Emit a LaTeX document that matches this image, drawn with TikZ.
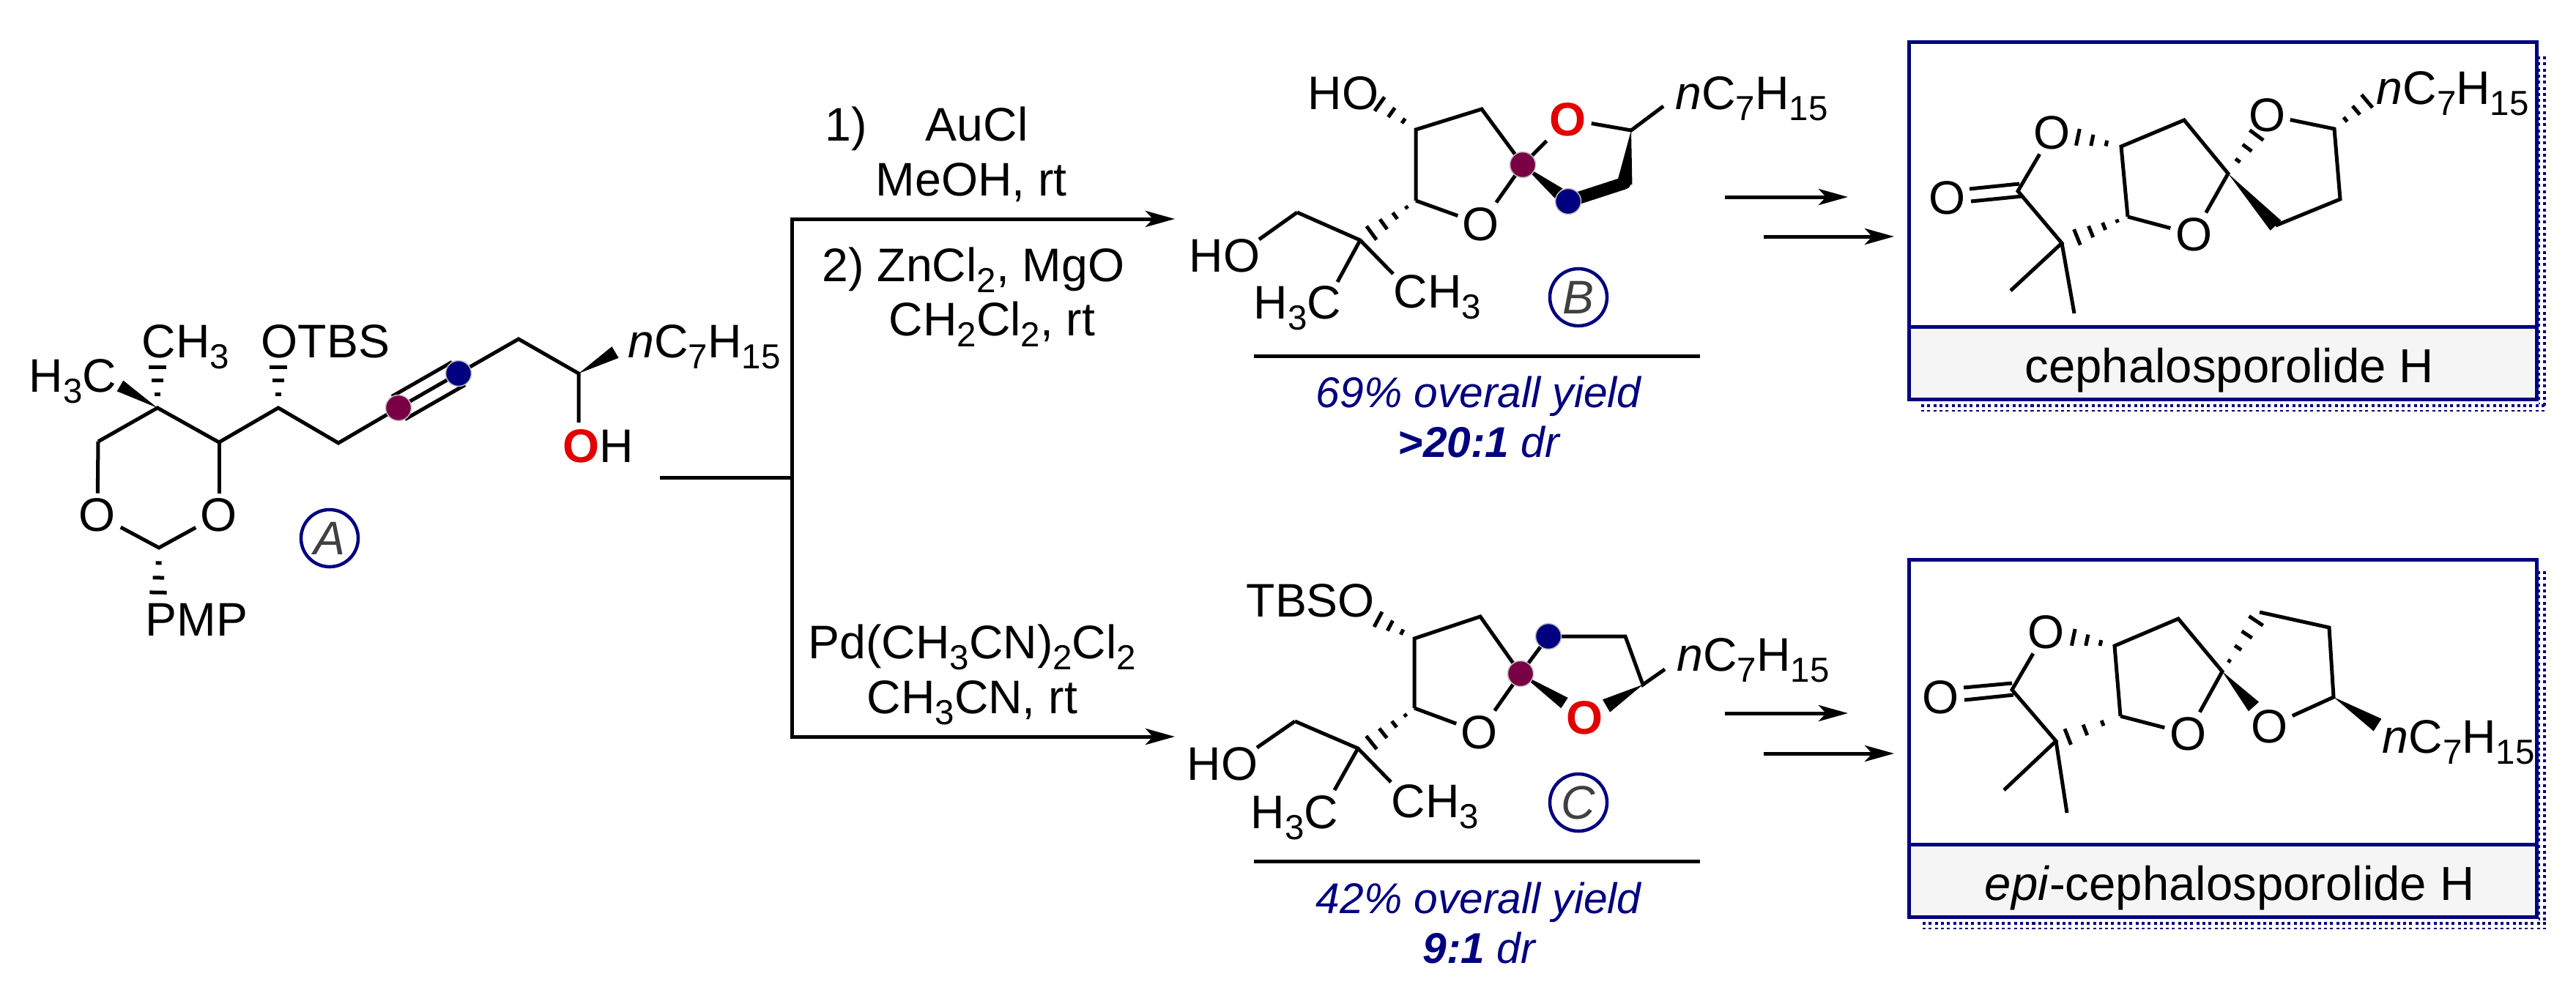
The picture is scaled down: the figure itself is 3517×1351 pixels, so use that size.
\documentclass[tikz,border=0pt]{standalone}
\usepackage{fontspec}
\setmainfont{Liberation Sans}
\usetikzlibrary{arrows.meta, positioning, calc}
\definecolor{Navy}{RGB}{0, 0, 128}
\definecolor{Plum}{RGB}{122, 0, 70}
\definecolor{AtomRed}{RGB}{226, 0, 0}
\definecolor{LabelGray}{RGB}{245, 245, 245}
\tikzset{
  bond/.style={line width=.05cm, line join=miter},
  boldbond/.style={line width=.17cm, line cap=round},
  hashline/.style={line width=.05cm},
  rxn/.style={line width=.05cm, -{Stealth[length=.4cm, width=.22cm, inset=.1cm]}},
  txt/.style={anchor=base west, inner sep=0pt, font=\fontsize{18.3pt}{20pt}\selectfont},
  atom/.style={inner sep=.06cm, font=\fontsize{18.3pt}{20pt}\selectfont},
  redatom/.style={atom, text=AtomRed, font=\fontsize{18.3pt}{20pt}\selectfont\bfseries},
  yieldtxt/.style={anchor=base west, inner sep=0pt, text=Navy, font=\fontsize{16.7pt}{19pt}\selectfont\itshape},
  dotpurple/.style={circle, inner sep=0pt, minimum size=.35cm, fill=Plum, draw=gray!50, line width=.015cm},
  dotblue/.style={circle, inner sep=0pt, minimum size=.35cm, fill=Navy, draw=gray!50, line width=.015cm},
  cmpd/.style={circle, inner sep=0pt, minimum size=.78cm, draw=Navy, line width=.045cm, text=black!75,
    font=\fontsize{18.3pt}{20pt}\selectfont\itshape},
  boxline/.style={draw=Navy, line width=.05cm},
  shadowline/.style={draw=Navy, line width=.04cm, dash pattern=on .04cm off .043cm},
  shadowthin/.style={draw=Navy, line width=.025cm, dash pattern=on .04cm off .043cm}
}
\newcommand{\subs}[1]{\raisebox{-.15cm}{\fontsize{13.5pt}{14pt}\selectfont #1}}
\newcommand{\nhept}{\textit{n}C\subs{7}H\subs{15}}
\newcommand{\wedgebond}[3]{\fill (#1) -- ($(#2)!#3!90:(#1)$) -- ($(#2)!#3!-90:(#1)$) -- cycle;}
\newcommand{\hashbond}[4][.33,.65,.97]{%
  \foreach \hpos in {#1} {
    \coordinate (hb) at ($(#2)!\hpos!(#3)$);
    \draw[hashline] ($(hb)!\hpos*#4!90:(#3)$) -- ($(hb)!\hpos*#4!-90:(#3)$);
  }}

\begin{document}
\begin{tikzpicture}[x=.01cm, y=-.01cm]
            \useasboundingbox (0,0) rectangle (3517,1351);

            % compound A
            \coordinate (aq) at (215,557);
            \coordinate (ac1) at (134,603);
            \coordinate (ac2) at (299,604);
            \coordinate (ac3) at (380,557);
            \coordinate (ac4) at (462,605);
            \coordinate (ayn1) at (544,557);
            \coordinate (ayn2) at (626,510);
            \coordinate (ac5) at (708,463);
            \coordinate (ac6) at (790,510);
            \coordinate (aacet) at (217,748);
            \coordinate (aohend) at (790,577);
            \coordinate (ame) at (164,527);
            \coordinate (ahept) at (840,481);
            \coordinate (amehash) at (215,500);
            \coordinate (aotbs) at (380,500);
            \coordinate (apmp) at (216,811);
            \node (aO1) at (133,703) [atom] {O};
            \node (aO2) at (299,703) [atom] {O};
            \node (aH3C) at (39,535) [txt] {H\subs{3}C};
            \node (aCH3) at (193,488) [txt] {CH\subs{3}};
            \node (aOTBS) at (356,488) [txt] {OTBS};
            \node (aPMP) at (198,868) [txt] {PMP};
            \node (anC7) at (857,488) [txt] {\nhept};
            \node (aOH) at (768,631) [txt] {\textcolor{AtomRed}{\bfseries O}H};
            \draw[bond] (ac1) -- (aq) -- (ac2) -- (ac3) -- (ac4) -- (ayn1);
            \draw[bond] (ayn1) -- (ayn2) -- (ac5) -- (ac6) -- (aohend);
            \draw[bond] ($(ayn1)!.18cm!90:(ayn2)$) -- ($(ayn2)!.18cm!-90:(ayn1)$);
            \draw[bond] ($(ayn1)!.18cm!-90:(ayn2)$) -- ($(ayn2)!.18cm!90:(ayn1)$);
            \draw[bond] (ac1) -- (aO1);
            \draw[bond] (ac2) -- (aO2);
            \draw[bond] (aO1) -- (aacet) -- (aO2);
            \wedgebond{aq}{ame}{.085cm}
            \wedgebond{ac6}{ahept}{.09cm}
            \hashbond{aq}{amehash}{.12cm}
            \hashbond{ac3}{aotbs}{.12cm}
            \hashbond{aacet}{apmp}{.12cm}
            \node (aDot1) at (ayn1) [dotpurple] {};
            \node (aDot2) at (ayn2) [dotblue] {};
            \node (labA) at (450,735) [cmpd] {A};

            % branching arrows
            \coordinate (brS) at (901,652);
            \coordinate (brM) at (1081,652);
            \coordinate (brT) at (1081,299);
            \coordinate (brB) at (1081,1006);
            \coordinate (tipT) at (1604,299);
            \coordinate (tipB) at (1604,1006);
            \draw[bond] (brS) -- (brM);
            \draw[bond] (brT) -- (brB);
            \draw[rxn] ([xshift=-.025cm]brT) -- (tipT);
            \draw[rxn] ([xshift=-.025cm]brB) -- (tipB);
            \node (rgtA) at (1126,192) [txt] {1)\hspace{.8cm}AuCl};
            \node (rgtB) at (1195,267) [txt] {MeOH, rt};
            \node (rgtC) at (1122,384) [txt] {2) ZnCl\subs{2}, MgO};
            \node (rgtD) at (1213,458) [txt] {CH\subs{2}Cl\subs{2}, rt};
            \node (rgtE) at (1103,899) [txt] {Pd(CH\subs{3}CN)\subs{2}Cl\subs{2}};
            \node (rgtF) at (1183,974) [txt] {CH\subs{3}CN, rt};

            % compound B
            \coordinate (bc1) at (1933,177);
            \coordinate (bc2) at (2023,149);
            \coordinate (bsp) at (2079,225);
            \coordinate (bc3) at (1933,274);
            \coordinate (bq) at (1857,328);
            \coordinate (bc4) at (1771,290);
            \coordinate (bc5) at (2227,178);
            \coordinate (bc6) at (2218,250);
            \coordinate (bc7) at (2141,275);
            \coordinate (bwa) at (2128,264);
            \coordinate (bwb) at (2218,251);
            \coordinate (bho1) at (1882,141);
            \coordinate (bhq) at (1870,320);
            \coordinate (bho2) at (1719,327);
            \coordinate (bme1) at (1826,385);
            \coordinate (bme2) at (1902,374);
            \coordinate (bhept) at (2271,145);
            \node (bO1) at (2022,306) [atom] {O};
            \node (bO2) at (2141,163) [redatom] {O};
            \node (bHO1) at (1785,149) [txt] {HO};
            \node (bHO2) at (1623,371) [txt] {HO};
            \node (bH3C) at (1711,435) [txt] {H\subs{3}C};
            \node (bCH3) at (1902,420) [txt] {CH\subs{3}};
            \node (bnC7) at (2287,149) [txt] {\nhept};
            \draw[bond] (bc3) -- (bc1) -- (bc2) -- (bsp) -- (bO1);
            \draw[bond] (bc3) -- (bO1);
            \draw[bond] (bc4) -- (bq) -- (bme2);
            \draw[bond] (bho2) -- (bc4);
            \draw[bond] (bq) -- (bme1);
            \draw[bond] (bsp) -- (bO2) -- (bc5) -- (bhept);
            \wedgebond{bsp}{bwa}{.085cm}
            \wedgebond{bc5}{bwb}{.105cm}
            \draw[boldbond] (bc7) -- (bc6);
            \hashbond{bc1}{bho1}{.12cm}
            \hashbond[.2,.45,.7,.96]{bc3}{bhq}{.12cm}
            \node (bDot1) at (bsp) [dotpurple] {};
            \node (bDot2) at (bc7) [dotblue] {};
            \node (labB) at (2155,406) [cmpd] {B};
            \coordinate (bruleL) at (1712,486);
            \coordinate (bruleR) at (2321,486);
            \draw[bond] (bruleL) -- (bruleR);
            \node (bYield) at (1796,556) [yieldtxt] {69\% overall yield};
            \node (bDr) at (1908,624) [yieldtxt] {\textbf{>20:1} dr};

            % compound C
            \coordinate (cc1) at (1931,872);
            \coordinate (cc2) at (2021,842);
            \coordinate (csp) at (2076,920);
            \coordinate (cc3) at (1931,967);
            \coordinate (cq) at (1854,1022);
            \coordinate (cc4) at (1768,985);
            \coordinate (cc5) at (2114,869);
            \coordinate (cc6) at (2219,869);
            \coordinate (cc7) at (2243,935);
            \coordinate (cwa) at (2136,960);
            \coordinate (cwb) at (2193,964);
            \coordinate (cho1) at (1880,845);
            \coordinate (chq) at (1870,1016);
            \coordinate (cho2) at (1716,1021);
            \coordinate (cme1) at (1822,1079);
            \coordinate (cme2) at (1899,1068);
            \coordinate (chept) at (2273,914);
            \node (cO1) at (2020,1000) [atom] {O};
            \node (cO2) at (2164,980) [redatom] {O};
            \node (cTBSO) at (1701,842) [txt] {TBSO};
            \node (cHO) at (1620,1065) [txt] {HO};
            \node (cH3C) at (1707,1131) [txt] {H\subs{3}C};
            \node (cCH3) at (1899,1116) [txt] {CH\subs{3}};
            \node (cnC7) at (2289,916) [txt] {\nhept};
            \draw[bond] (cc3) -- (cc1) -- (cc2) -- (csp) -- (cO1);
            \draw[bond] (cc3) -- (cO1);
            \draw[bond] (cc4) -- (cq) -- (cme2);
            \draw[bond] (cho2) -- (cc4);
            \draw[bond] (cq) -- (cme1);
            \draw[bond] (csp) -- (cc5) -- (cc6) -- (cc7) -- (chept);
            \wedgebond{csp}{cwa}{.085cm}
            \wedgebond{cc7}{cwb}{.1cm}
            \hashbond{cc1}{cho1}{.12cm}
            \hashbond[.2,.45,.7,.96]{cc3}{chq}{.12cm}
            \node (cDot1) at (csp) [dotpurple] {};
            \node (cDot2) at (cc5) [dotblue] {};
            \node (labC) at (2155,1096) [cmpd] {C};
            \coordinate (cruleL) at (1712,1176);
            \coordinate (cruleR) at (2321,1176);
            \draw[bond] (cruleL) -- (cruleR);
            \node (cYield) at (1796,1247) [yieldtxt] {42\% overall yield};
            \node (cDr) at (1942,1315) [yieldtxt] {\textbf{9:1} dr};

            % short arrows
            \coordinate (arA1) at (2355,269);
            \coordinate (arA2) at (2523,269);
            \coordinate (arB1) at (2408,323);
            \coordinate (arB2) at (2586,323);
            \coordinate (arC1) at (2355,974);
            \coordinate (arC2) at (2523,974);
            \coordinate (arD1) at (2408,1029);
            \coordinate (arD2) at (2586,1029);
            \draw[rxn] (arA1) -- (arA2);
            \draw[rxn] (arB1) -- (arB2);
            \draw[rxn] (arC1) -- (arC2);
            \draw[rxn] (arD1) -- (arD2);

            % boxes
            \draw[shadowline] (3474,77) -- (3474,556);
            \draw[shadowthin] (3467,77) -- (3467,552);
            \draw[shadowline] (2623,554) -- (3476,554);
            \draw[shadowthin] (2623,561) -- (3476,561);
            \fill[LabelGray] (2606,446) rectangle (3463,545);
            \draw[boxline] (2606,57) rectangle (3463,545);
            \draw[boxline] (2606,446) -- (3463,446);

            \draw[shadowline] (3474,780) -- (3474,1263);
            \draw[shadowthin] (3467,780) -- (3467,1259);
            \draw[shadowline] (2625,1261) -- (3478,1261);
            \draw[shadowthin] (2625,1268) -- (3478,1268);
            \fill[LabelGray] (2606,1153) rectangle (3463,1252);
            \draw[boxline] (2606,764) rectangle (3463,1252);
            \draw[boxline] (2606,1153) -- (3463,1153);

            % cephalosporolide H
            \coordinate (dc1) at (2896,200);
            \coordinate (dc2) at (2982,164);
            \coordinate (dsp) at (3042,237);
            \coordinate (dc3) at (2905,296);
            \coordinate (dq) at (2815,332);
            \coordinate (dc4) at (2755,261);
            \coordinate (dc5) at (3187,176);
            \coordinate (dc6) at (3195,272);
            \coordinate (dc7) at (3107,308);
            \coordinate (dme1) at (2745,397);
            \coordinate (dme2) at (2832,428);
            \coordinate (ddb1) at (2689,258);
            \coordinate (ddb2) at (2757,251);
            \coordinate (ddb3) at (2691,275);
            \coordinate (ddb4) at (2761,268);
            \coordinate (dh1) at (2835,187);
            \coordinate (dh2) at (2833,325);
            \coordinate (dh3) at (3082,183);
            \coordinate (dh4) at (3233,137);
            \node (dO1) at (2995,320) [atom] {O};
            \node (dO2) at (2802,181) [atom] {O};
            \node (dO3) at (2658,270) [atom] {O};
            \node (dO4) at (3095,157) [atom] {O};
            \node (dnC7) at (3244,142) [txt] {\nhept};
            \draw[bond] (dc3) -- (dc1) -- (dc2) -- (dsp) -- (dO1);
            \draw[bond] (dc3) -- (dO1);
            \draw[bond] (dO2) -- (dc4) -- (dq) -- (dme1);
            \draw[bond] (dq) -- (dme2);
            \draw[bond] (ddb1) -- (ddb2);
            \draw[bond] (ddb3) -- (ddb4);
            \draw[bond] (dO4) -- (dc5) -- (dc6) -- (dc7);
            \wedgebond{dsp}{dc7}{.1cm}
            \hashbond{dc1}{dh1}{.12cm}
            \hashbond[.2,.45,.7,.96]{dc3}{dh2}{.12cm}
            \hashbond{dsp}{dh3}{.12cm}
            \hashbond{dc5}{dh4}{.12cm}
            \node (dName) at (2764,522) [txt, font=\fontsize{18.55pt}{20pt}\selectfont] {cephalosporolide H};

            % epi-cephalosporolide H
            \coordinate (ec1) at (2887,882);
            \coordinate (ec2) at (2974,845);
            \coordinate (esp) at (3034,917);
            \coordinate (ec3) at (2895,978);
            \coordinate (eq) at (2807,1012);
            \coordinate (ec4) at (2747,942);
            \coordinate (ec5) at (3085,836);
            \coordinate (ec6) at (3180,857);
            \coordinate (ec7) at (3186,952);
            \coordinate (eme1) at (2736,1079);
            \coordinate (eme2) at (2822,1110);
            \coordinate (edb1) at (2681,939);
            \coordinate (edb2) at (2747,933);
            \coordinate (edb3) at (2682,956);
            \coordinate (edb4) at (2749,949);
            \coordinate (eh1) at (2829,870);
            \coordinate (eh2) at (2821,1007);
            \coordinate (eh3) at (3082,845);
            \coordinate (ew1) at (3077,965);
            \coordinate (ew2) at (3246,990);
            \node (eO1) at (2987,1002) [atom] {O};
            \node (eO2) at (2793,863) [atom] {O};
            \node (eO3) at (2650,952) [atom] {O};
            \node (eO4) at (3098,992) [atom] {O};
            \node (enC7) at (3252,1028) [txt] {\nhept};
            \draw[bond] (ec3) -- (ec1) -- (ec2) -- (esp) -- (eO1);
            \draw[bond] (ec3) -- (eO1);
            \draw[bond] (eO2) -- (ec4) -- (eq) -- (eme1);
            \draw[bond] (eq) -- (eme2);
            \draw[bond] (edb1) -- (edb2);
            \draw[bond] (edb3) -- (edb4);
            \draw[bond] (ec5) -- (ec6) -- (ec7) -- (eO4);
            \wedgebond{esp}{ew1}{.095cm}
            \wedgebond{ec7}{ew2}{.1cm}
            \hashbond{ec1}{eh1}{.12cm}
            \hashbond{ec3}{eh2}{.12cm}
            \hashbond[.2,.45,.7,.96]{esp}{eh3}{.12cm}
            \node (eName) at (2709,1229) [txt, font=\fontsize{18.55pt}{20pt}\selectfont] {\textit{epi}-cephalosporolide H};
        \end{tikzpicture}
\end{document}
